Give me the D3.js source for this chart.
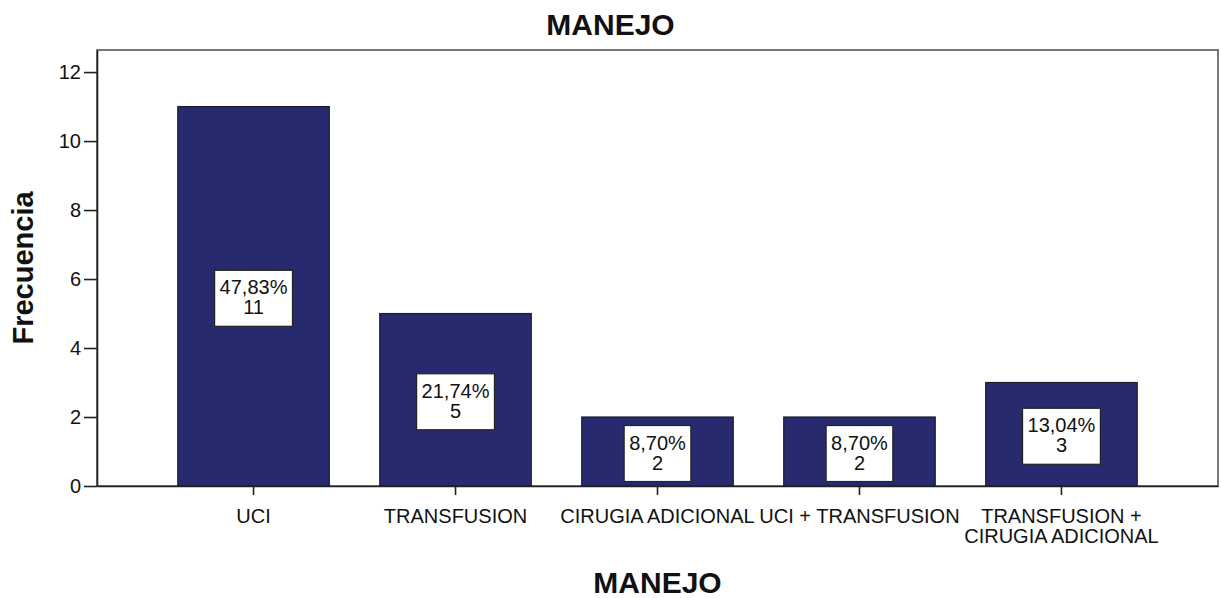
<!DOCTYPE html>
<html>
<head>
<meta charset="utf-8">
<script src="https://cdn.jsdelivr.net/npm/d3@7"></script>
<style>
  body { margin: 0; background: #fff; }
  text { font-family: "Liberation Sans", Arial, sans-serif; fill: #111; }
</style>
</head>
<body>
<div id="chart"></div>
<script>
// data
var categories = ["UCI", "TRANSFUSION", "CIRUGIA ADICIONAL", "UCI + TRANSFUSION", "TRANSFUSION +\nCIRUGIA ADICIONAL"]
var counts = [11, 5, 2, 2, 3]
var percents = ["47,83%", "21,74%", "8,70%", "8,70%", "13,04%"]
var yTicks = [0, 2, 4, 6, 8, 10, 12]

var width = 1221,
    height = 598
var plot = {left: 97, right: 1218, top: 50, bottom: 486}

var svg = d3.select("#chart")
  .append("svg")
    .attr("width", width)
    .attr("height", height)

var x = d3.scaleBand()
  .domain(categories)
  .range([plot.left, plot.right])
  .paddingInner(0.25)
  .paddingOuter(0.4)

var y = d3.scaleLinear()
  .domain([0, 12.64])
  .range([plot.bottom, plot.top])

// frame
svg.append("rect")
  .attr("x", plot.left)
  .attr("y", plot.top)
  .attr("width", plot.right - plot.left)
  .attr("height", plot.bottom - plot.top)
  .attr("fill", "none")
  .attr("stroke", "#555")
  .attr("stroke-width", 1.6)

// bars
svg.selectAll("rect.bar")
  .data(counts)
  .enter()
  .append("rect")
    .attr("class", "bar")
    .attr("x", function(d, i) { return x(categories[i]) })
    .attr("y", function(d) { return y(d) })
    .attr("width", x.bandwidth())
    .attr("height", function(d) { return y(0) - y(d) })
    .attr("fill", "#282a70")
    .attr("stroke", "#1a1a2a")
    .attr("stroke-width", 1.2)

// y axis
var yAxis = svg.append("g")
  .attr("transform", "translate(" + plot.left + ",0)")
  .call(d3.axisLeft(y).tickValues(yTicks).tickSize(13).tickSizeOuter(0).tickPadding(3))
yAxis.select(".domain").attr("stroke", "#222").attr("stroke-width", 1.6)
yAxis.selectAll(".tick line").attr("stroke", "#222").attr("stroke-width", 1.6)
yAxis.selectAll(".tick text")
  .style("font-family", "'Liberation Sans', Arial, sans-serif")
  .style("font-size", "20px")
  .attr("fill", "#111")

// x axis
var xAxis = svg.append("g")
  .attr("transform", "translate(0," + plot.bottom + ")")
  .call(d3.axisBottom(x).tickSize(9).tickSizeOuter(0).tickFormat(""))
xAxis.select(".domain").attr("stroke", "#222").attr("stroke-width", 1.6)
xAxis.selectAll(".tick line").attr("stroke", "#222").attr("stroke-width", 1.6)

svg.selectAll("text.xlab")
  .data(categories)
  .enter()
  .append("text")
    .attr("class", "xlab")
    .attr("text-anchor", "middle")
    .attr("font-size", "20px")
    .attr("x", function(d) { return x(d) + x.bandwidth() / 2 })
    .attr("y", 523)
    .each(function(d) {
      var lines = d.split("\n")
      var t = d3.select(this)
      lines.forEach(function(l, j) {
        t.append("tspan")
          .attr("x", x(d) + x.bandwidth() / 2)
          .attr("dy", j === 0 ? 0 : 20)
          .text(l)
      })
    })

// value labels in white boxes
counts.forEach(function(v, i) {
  var cx = x(categories[i]) + x.bandwidth() / 2
  var cy = y(v / 2) + 2
  var g = svg.append("g")
  var box = g.append("rect")
  var t = g.append("text")
    .attr("text-anchor", "middle")
    .attr("font-size", "20px")
  t.append("tspan").attr("x", cx).attr("y", cy - 4).text(percents[i])
  t.append("tspan").attr("x", cx).attr("y", cy + 16).text(v)
  var w = t.select("tspan").node().getComputedTextLength()
  box.attr("x", cx - w / 2 - 5)
    .attr("y", cy - 28)
    .attr("width", w + 10)
    .attr("height", 56)
    .attr("fill", "#fff")
    .attr("stroke", "#222")
    .attr("stroke-width", 1.2)
})

// titles
svg.append("text")
  .attr("x", width / 2)
  .attr("y", 35)
  .attr("text-anchor", "middle")
  .attr("font-size", "30px")
  .attr("font-weight", "bold")
  .text("MANEJO")

svg.append("text")
  .attr("x", (plot.left + plot.right) / 2)
  .attr("y", 593)
  .attr("text-anchor", "middle")
  .attr("font-size", "30px")
  .attr("font-weight", "bold")
  .text("MANEJO")

svg.append("text")
  .attr("transform", "translate(33," + (plot.top + plot.bottom) / 2 + ") rotate(-90)")
  .attr("text-anchor", "middle")
  .attr("font-size", "29px")
  .attr("font-weight", "bold")
  .text("Frecuencia")
</script>
</body>
</html>
